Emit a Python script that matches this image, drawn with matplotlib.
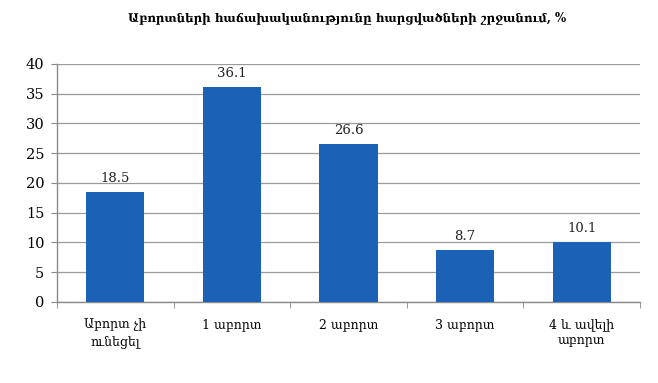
import matplotlib.pyplot as plt
import numpy as np

# Աբորտների հաճախականությունը
categories = ["Աբորտ չի\nունեցել", "1 աբորտ", "2 աբորտ", "3 աբորտ", "4 և ավելի\nաբորտ"]
values = [18.5, 36.1, 26.6, 8.7, 10.1]
yticks = [0, 5, 10, 15, 20, 25, 30, 35, 40]

plt.rcParams['font.family'] = ['DejaVu Serif', 'DejaVu Sans']

fig = plt.figure(figsize=(6.58, 3.83), dpi=100)
ax = fig.add_axes([0.0866, 0.2115, 0.886, 0.6215])

x = np.arange(len(categories))
bars = ax.bar(x, values, width=0.5, color='#1b62b6', zorder=3)

for xi, v in zip(x, values):
    ax.text(xi, v + 1.2, f"{v:.1f}", ha='center', va='bottom', fontsize=9.5, color='#222222')

ax.set_xlim(-0.5, len(categories) - 0.5)
ax.set_ylim(0, 40)
ax.set_yticks(yticks)
ax.yaxis.grid(True, color='#9a9a9a', linewidth=0.9, zorder=0)

ax.set_xticks(x)
ax.set_xticklabels(categories, fontsize=9, linespacing=1.3)
ax.set_xticks(np.arange(-0.5, len(categories)), minor=True)
ax.tick_params(axis='x', which='major', length=0, pad=12)
ax.tick_params(axis='x', which='minor', length=4, color='#8a8a8a', direction='out')
ax.tick_params(axis='y', length=4, color='#8a8a8a', labelsize=10.5, pad=5)

for side in ['top', 'right']:
    ax.spines[side].set_visible(False)
for side in ['left', 'bottom']:
    ax.spines[side].set_color('#8a8a8a')
    ax.spines[side].set_linewidth(1.0)

fig.text(0.527, 0.953, "Աբորտների հաճախականությունը հարցվածների շրջանում, %",
         ha='center', va='center', fontsize=8.5, fontweight='bold')

fig.savefig('out.png', dpi=100)
